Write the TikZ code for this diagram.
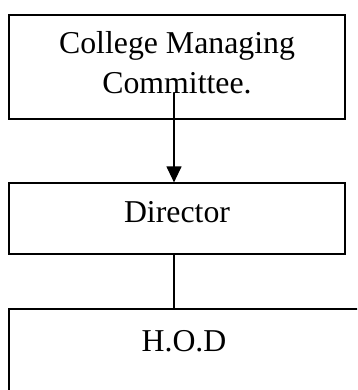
\documentclass[tikz,border=0pt]{standalone}
\usepackage{fontspec}
\setmainfont{Liberation Serif}
\usetikzlibrary{arrows.meta}
\begin{document}
\begin{tikzpicture}[x=1pt,y=1pt,
  box/.style={draw=black,line width=1.2pt,rectangle,inner sep=0pt},
  lbl/.style={anchor=base,inner sep=0pt,font=\fontsize{31.8}{40}\selectfont,align=center},
  conn/.style={draw=black,line width=1.2pt}]
\useasboundingbox (0,0) rectangle (357,-390);
\clip (0,0) rectangle (357,-390);
\node[box,minimum width=336pt,minimum height=104pt] (cmc) at (177,-67) {};
\node[lbl] (cmct) at (177,-94) {College Managing\\Committee.};
\node[box,minimum width=336pt,minimum height=71pt] (dir) at (177,-218.5) {};
\node[lbl] (dirt) at (177,-222) {Director};
\node[box,minimum width=350pt,minimum height=110pt] (hod) at (184,-364) {};
\node[lbl] (hodt) at (184,-351) {H.O.D};
\coordinate (a0) at (174,-93);
\draw[conn,-{Triangle[width=15pt,length=16pt]}] (a0) -- (a0 |- dir.north);
\coordinate (b0) at (174,-254);
\draw[conn] (b0 |- dir.south) -- (b0 |- hod.north);
\end{tikzpicture}
\end{document}
